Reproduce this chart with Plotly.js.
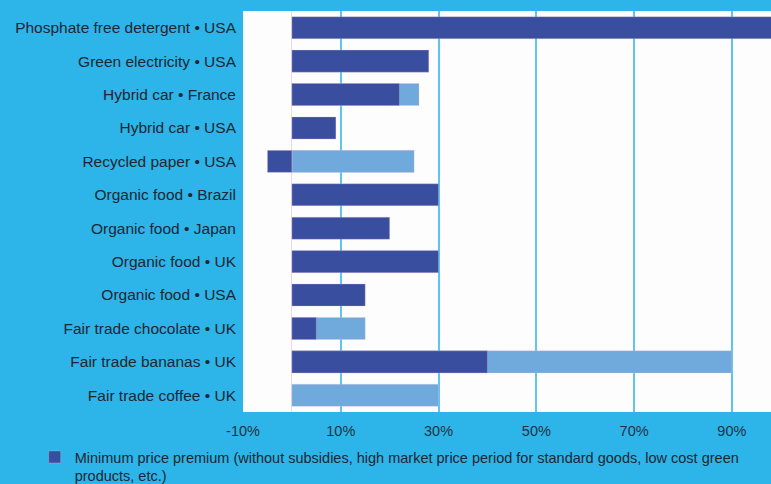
<!DOCTYPE html>
<html>
<head>
<meta charset="utf-8">
<script src="https://cdn.plot.ly/plotly-3.0.1.min.js"></script>
<style>html,body{margin:0;padding:0;background:#2db4e8;}#chart{width:771px;height:484px;}</style>
</head>
<body>
<div id="chart"></div>
<script>
const categories = [
  "Phosphate free detergent • USA",
  "Green electricity • USA",
  "Hybrid car • France",
  "Hybrid car • USA",
  "Recycled paper • USA",
  "Organic food • Brazil",
  "Organic food • Japan",
  "Organic food • UK",
  "Organic food • USA",
  "Fair trade chocolate • UK",
  "Fair trade bananas • UK",
  "Fair trade coffee • UK"
];
const minPremium = [100, 28, 22, 9, -5, 30, 20, 30, 15, 5, 40, null];
const maxPremium = [null, null, 26, null, 25, null, null, null, null, 15, 90, 30];
const tickValues = [-10, 10, 30, 50, 70, 90];
const tickLabels = ["-10%", "10%", "30%", "50%", "70%", "90%"];
const minLabel = "Minimum price premium (without subsidies, high market price period for standard goods, low cost green<br>products, etc.)";
const maxLabel = "Maximum price premium";

const traces = [
  {
    type: "bar", orientation: "h", y: categories, x: maxPremium, name: maxLabel,
    marker: {color: "#70aadc", line: {color: "rgba(230,190,210,0.6)", width: 0.5}},
    width: 0.66, showlegend: false, hoverinfo: "x+y"
  },
  {
    type: "bar", orientation: "h", y: categories, x: minPremium, name: minLabel,
    marker: {color: "#3a4ea0", line: {color: "rgba(230,190,210,0.6)", width: 0.5}},
    width: 0.66, hoverinfo: "x+y"
  }
];

const layout = {
  width: 771, height: 484,
  paper_bgcolor: "#2db4e8",
  plot_bgcolor: "#fdfdfd",
  margin: {l: 243, r: 0, t: 11, b: 72, autoexpand: false},
  barmode: "overlay",
  font: {family: "Liberation Sans, Arial, sans-serif", color: "#1f2733", size: 14},
  xaxis: {
    range: [-10, 98],
    tickvals: tickValues, ticktext: tickLabels,
    showgrid: true, gridcolor: "#5cc6f0", gridwidth: 2,
    zeroline: true, zerolinecolor: "#eadbe2", zerolinewidth: 1,
    ticks: "", showline: false,
    ticklabelstandoff: 8,
    tickfont: {size: 14.5, color: "#26323f"}
  },
  yaxis: {
    categoryorder: "array", categoryarray: categories,
    autorange: "reversed",
    showgrid: false, zeroline: false, ticks: "", showline: false,
    ticklabelstandoff: 6,
    tickfont: {size: 15.5}
  },
  legend: {
    xref: "container", yref: "container",
    x: 0.045, xanchor: "left", y: 0.0888, yanchor: "top",
    orientation: "v", bgcolor: "rgba(0,0,0,0)",
    valign: "top",
    font: {size: 14.5, color: "#1f2733"},
    itemwidth: 30, tracegroupgap: 0
  },
  showlegend: true
};

Plotly.newPlot("chart", traces, layout, {displayModeBar: false, staticPlot: true});
</script>
</body>
</html>
